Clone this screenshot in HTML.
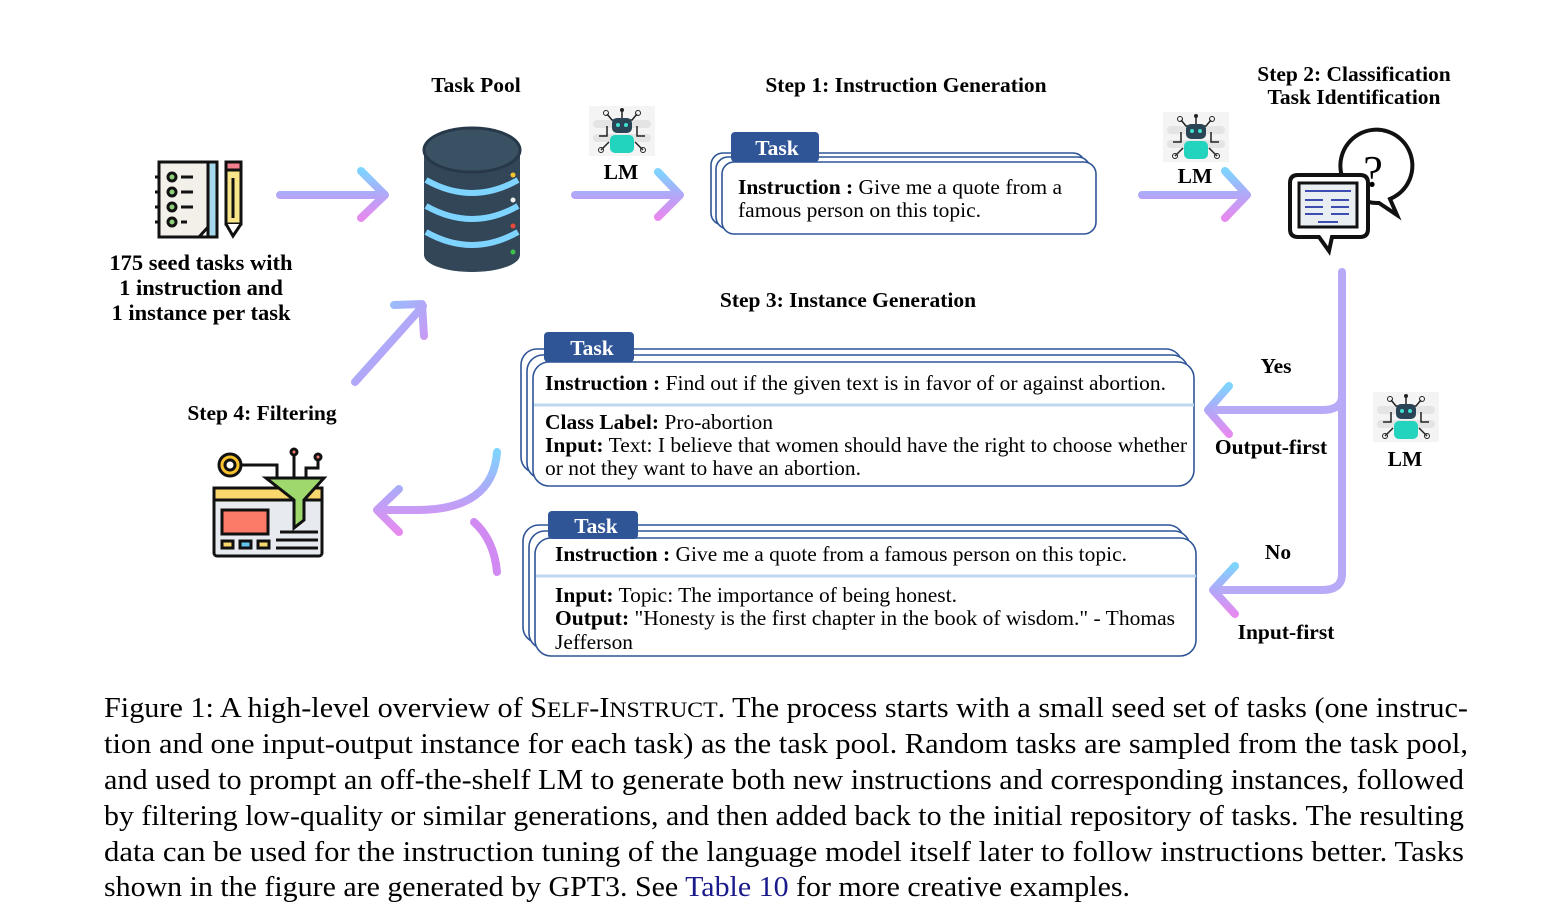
<!DOCTYPE html>
<html><head><meta charset="utf-8"><style>
html,body{margin:0;padding:0;background:#fff;}
svg{display:block}
text{font-family:"Liberation Serif",serif;fill:#000}
.b{font-weight:bold}
</style></head><body>
<svg width="1542" height="921" viewBox="0 0 1542 921" xmlns="http://www.w3.org/2000/svg">
<defs>
<linearGradient id="gh" x1="0" y1="0" x2="0" y2="1"><stop offset="0" stop-color="#7fd3ff"/><stop offset="0.5" stop-color="#b0a8f8"/><stop offset="1" stop-color="#e68af0"/></linearGradient>
<linearGradient id="gv" x1="0" y1="0" x2="1" y2="1"><stop offset="0" stop-color="#7fd3ff"/><stop offset="0.5" stop-color="#b0a8f8"/><stop offset="1" stop-color="#e68af0"/></linearGradient>
<g id="robot">
<rect x="0" y="0" width="66" height="50" fill="#f4f4f4"/>
<rect x="4" y="14" width="58" height="8" rx="4" fill="#e4e4e4"/><rect x="4" y="28" width="58" height="8" rx="4" fill="#e4e4e4"/>
<path d="M33 4v8M18 8l5 6h10M48 8l-5 6H33M10 30h8v-10M56 30h-8v-10M12 44l8-8M54 44l-8-8" stroke="#222" stroke-width="1.5" fill="none"/>
<circle cx="33" cy="4" r="2" fill="#222"/><circle cx="17" cy="7" r="2.5" fill="none" stroke="#222"/><circle cx="49" cy="7" r="2.5" fill="none" stroke="#222"/><circle cx="12" cy="44" r="2.5" fill="none" stroke="#222"/><circle cx="54" cy="44" r="2.5" fill="none" stroke="#222"/>
<rect x="23" y="12" width="20" height="15" rx="5" fill="#2b4455"/><circle cx="29" cy="19" r="2" fill="#3ee0cf"/><circle cx="37" cy="19" r="2" fill="#3ee0cf"/>
<rect x="21" y="29" width="24" height="18" rx="5" fill="#22d3bd"/>
</g>
</defs>

<!-- Top labels -->
<text x="476" y="92" class="b" font-size="21.5" text-anchor="middle">Task Pool</text>
<text x="906" y="92" class="b" font-size="21.5" text-anchor="middle">Step 1: Instruction Generation</text>
<text x="1354" y="81" class="b" font-size="21.5" text-anchor="middle">Step 2: Classification</text>
<text x="1354" y="104" class="b" font-size="21.5" text-anchor="middle">Task Identification</text>
<text x="201" y="270" class="b" font-size="22.5" text-anchor="middle">175 seed tasks with</text>
<text x="201" y="295" class="b" font-size="22.5" text-anchor="middle">1 instruction and</text>
<text x="201" y="320" class="b" font-size="22.5" text-anchor="middle">1 instance per task</text>
<text x="848" y="307" class="b" font-size="21.5" text-anchor="middle">Step 3: Instance Generation</text>
<text x="262" y="420" class="b" font-size="21.5" text-anchor="middle">Step 4: Filtering</text>

<!-- seed icon -->
<g stroke="#111" stroke-width="3" fill="none">
<rect x="159" y="162" width="58" height="75" fill="#f3f0ea"/>
<rect x="208" y="162" width="9" height="75" fill="#a5d8ec"/>
<path d="M199 237l9-10v10z" fill="#fff"/>
<circle cx="172" cy="177" r="4" fill="#8fd07a"/><circle cx="172" cy="192" r="4" fill="#8fd07a"/><circle cx="172" cy="207" r="4" fill="#8fd07a"/><circle cx="172" cy="222" r="4" fill="#8fd07a"/>
<path d="M181 177h12M181 192h12M181 207h12M181 222h6M155 177h4M155 192h4M155 207h4M155 222h4"/>
<rect x="226" y="162" width="15" height="62" fill="#f8e58a"/>
<rect x="226" y="162" width="15" height="8" fill="#f37f8f"/>
<path d="M226 224l7 12 8-12" fill="#fff"/><path d="M233 178v40"/>
</g>

<!-- database -->
<g>
<rect x="424" y="150" width="96" height="105" fill="#324657"/>
<ellipse cx="472" cy="255" rx="48" ry="17" fill="#324657"/>
<ellipse cx="472" cy="150" rx="48" ry="22" fill="#3a5163" stroke="#26384a" stroke-width="3"/>
<path d="M426 180q46 26 92 0" stroke="#7fd3ff" stroke-width="6" fill="none"/>
<path d="M426 206q46 26 92 0" stroke="#7fd3ff" stroke-width="6" fill="none"/>
<path d="M426 232q46 26 92 0" stroke="#7fd3ff" stroke-width="6" fill="none"/>
<circle cx="513" cy="175" r="2.5" fill="#f5c32c"/><circle cx="513" cy="200" r="2.5" fill="#eee"/><circle cx="513" cy="226" r="2.5" fill="#e84a3a"/><circle cx="513" cy="252" r="2.5" fill="#3cc24a"/>
</g>

<!-- robots -->
<use href="#robot" x="589" y="106"/>
<text x="621" y="179" class="b" font-size="21.5" text-anchor="middle">LM</text>
<use href="#robot" x="1163" y="112"/>
<text x="1195" y="183" class="b" font-size="21.5" text-anchor="middle">LM</text>
<use href="#robot" x="1373" y="392"/>
<text x="1405" y="466" class="b" font-size="21.5" text-anchor="middle">LM</text>

<!-- classification icon -->
<g stroke="#111" stroke-width="4" fill="#fff">
<path d="M1346 185a36 36 0 1 1 44 14l7 16-18-12a36 36 0 0 1-33-18z"/>
<text x="1373" y="186" font-size="44" font-family="Liberation Sans,sans-serif" stroke="none" fill="#111" text-anchor="middle">?</text>
<path d="M1298 175h62q8 0 8 8v46q0 8-8 8h-28l-3 14-10-14h-21q-8 0-8-8v-46q0-8 8-8z"/>
<rect x="1299" y="183" width="58" height="44" fill="#e9eef2" stroke-width="3"/>
<path d="M1305 191h46M1305 200h18M1331 200h18M1305 207h18M1331 207h18M1305 214h18M1331 214h18M1318 222h20" stroke-width="2" stroke="#3c4cb0"/>
</g>

<!-- filtering icon -->
<g stroke="#111" stroke-width="3">
<rect x="214" y="488" width="108" height="68" rx="3" fill="#e7eaee"/>
<rect x="214" y="488" width="108" height="12" fill="#f9d76c"/>
<rect x="222" y="510" width="46" height="24" fill="#fb7b68"/>
<rect x="222" y="541" width="11" height="7" fill="#f9d76c"/><rect x="240" y="541" width="11" height="7" fill="#63c5f0"/><rect x="258" y="541" width="11" height="7" fill="#f9d76c"/>
<path d="M276 540h42M276 548h42M280 532h38" fill="none"/>
<circle cx="230" cy="465" r="11" fill="#f7c22c"/><circle cx="230" cy="465" r="5" fill="#fff"/>
<path d="M241 465h36v14M294 478v-24M306 478v-10h12v-12" fill="none"/>
<circle cx="294" cy="452" r="3" fill="#f37f6f"/><circle cx="318" cy="457" r="3" fill="#f37f6f"/>
<path d="M266 478h58l-20 22v20l-10 8v-28z" fill="#9fd86c"/>
</g>

<!-- arrows -->
<g fill="none" stroke-width="8" stroke-linecap="round" stroke-linejoin="round">
<path d="M280 195H384M361 171l24 24-24 23" stroke="url(#gh)"/>
<path d="M575 195H680M658 172l22 23-22 22" stroke="url(#gh)"/>
<path d="M1142 195H1247M1225 171l22 24-22 23" stroke="url(#gh)"/>
<path d="M355 382L423 306M394 305l28-1 2 32" stroke="url(#gv)"/>
<path d="M1342 272V574q0 16-20 16H1214M1342 396q0 14-20 14H1210" stroke="#b8aaf6"/>
<path d="M1229 386l-21 24 21 24" stroke="url(#gh)"/>
<path d="M1235 566l-22 24 22 24" stroke="url(#gh)"/>
<path d="M497 452q-4 58-80 58H378M399 489l-22 21 22 22" stroke="url(#gh)"/>
<path d="M474 522q20 18 23 50" stroke="#d08af2"/>
</g>

<!-- Task box 1 -->
<g fill="#fff" stroke="#2f5597" stroke-width="1.6">
<rect x="711" y="153" width="374" height="72" rx="12"/>
<rect x="716" y="157" width="374" height="72" rx="12"/>
<rect x="722" y="162" width="374" height="72" rx="12"/>
</g>
<rect x="731" y="132" width="88" height="30" rx="4" fill="#2f5597"/>
<text x="777" y="155" class="b" font-size="21.5" text-anchor="middle" style="fill:#fff">Task</text>
<text x="738" y="194" font-size="21.5" textLength="324" lengthAdjust="spacingAndGlyphs"><tspan class="b">Instruction :</tspan> Give me a quote from a</text>
<text x="738" y="217" font-size="21.5" textLength="243" lengthAdjust="spacingAndGlyphs">famous person on this topic.</text>

<!-- Task box 2 -->
<g fill="#fff" stroke="#2f5597" stroke-width="1.6">
<rect x="521" y="349" width="661" height="124" rx="16"/>
<rect x="527" y="355" width="661" height="124" rx="16"/>
<rect x="533" y="362" width="661" height="124" rx="16"/>
</g>
<line x1="534" y1="405" x2="1194" y2="405" stroke="#bdd7ee" stroke-width="3"/>
<rect x="544" y="332" width="90" height="30" rx="4" fill="#2f5597"/>
<text x="592" y="355" class="b" font-size="21.5" text-anchor="middle" style="fill:#fff">Task</text>
<text x="545" y="390" font-size="21.5" textLength="621" lengthAdjust="spacingAndGlyphs"><tspan class="b">Instruction :</tspan> Find out if the given text is in favor of or against abortion.</text>
<text x="545" y="429" font-size="21.5" textLength="228" lengthAdjust="spacingAndGlyphs"><tspan class="b">Class Label:</tspan> Pro-abortion</text>
<text x="545" y="452" font-size="21.5" textLength="642" lengthAdjust="spacingAndGlyphs"><tspan class="b">Input:</tspan> Text: I believe that women should have the right to choose whether</text>
<text x="545" y="475" font-size="21.5" textLength="316" lengthAdjust="spacingAndGlyphs">or not they want to have an abortion.</text>

<!-- Task box 3 -->
<g fill="#fff" stroke="#2f5597" stroke-width="1.6">
<rect x="523" y="525" width="661" height="118" rx="16"/>
<rect x="529" y="531" width="661" height="118" rx="16"/>
<rect x="535" y="538" width="661" height="118" rx="16"/>
</g>
<line x1="536" y1="576" x2="1196" y2="576" stroke="#bdd7ee" stroke-width="3"/>
<rect x="548" y="511" width="90" height="28" rx="4" fill="#2f5597"/>
<text x="596" y="533" class="b" font-size="21.5" text-anchor="middle" style="fill:#fff">Task</text>
<text x="555" y="561" font-size="21.5" textLength="572" lengthAdjust="spacingAndGlyphs"><tspan class="b">Instruction :</tspan> Give me a quote from a famous person on this topic.</text>
<text x="555" y="602" font-size="21.5" textLength="402" lengthAdjust="spacingAndGlyphs"><tspan class="b">Input:</tspan> Topic: The importance of being honest.</text>
<text x="555" y="625" font-size="21.5" textLength="620" lengthAdjust="spacingAndGlyphs"><tspan class="b">Output:</tspan> "Honesty is the first chapter in the book of wisdom." - Thomas</text>
<text x="555" y="649" font-size="21.5" textLength="78" lengthAdjust="spacingAndGlyphs">Jefferson</text>

<!-- Yes/No labels -->
<text x="1276" y="373" class="b" font-size="21.5" text-anchor="middle">Yes</text>
<text x="1271" y="454" class="b" font-size="21.5" text-anchor="middle">Output-first</text>
<text x="1278" y="559" class="b" font-size="21.5" text-anchor="middle">No</text>
<text x="1286" y="639" class="b" font-size="21.5" text-anchor="middle">Input-first</text>

<!-- caption -->
<g font-size="28">
<text x="104" y="717" textLength="1364" lengthAdjust="spacingAndGlyphs">Figure 1: A high-level overview of S<tspan font-size="22">ELF</tspan>-I<tspan font-size="22">NSTRUCT</tspan>. The process starts with a small seed set of tasks (one instruc-</text>
<text x="104" y="753" textLength="1364" lengthAdjust="spacingAndGlyphs">tion and one input-output instance for each task) as the task pool.  Random tasks are sampled from the task pool,</text>
<text x="104" y="789" textLength="1360" lengthAdjust="spacingAndGlyphs">and used to prompt an off-the-shelf LM to generate both new instructions and corresponding instances, followed</text>
<text x="104" y="825" textLength="1360" lengthAdjust="spacingAndGlyphs">by filtering low-quality or similar generations, and then added back to the initial repository of tasks. The resulting</text>
<text x="104" y="861" textLength="1360" lengthAdjust="spacingAndGlyphs">data can be used for the instruction tuning of the language model itself later to follow instructions better.  Tasks</text>
<text x="104" y="896" textLength="1026" lengthAdjust="spacingAndGlyphs">shown in the figure are generated by GPT3.  See <tspan style="fill:#1a1a8c">Table 10</tspan> for more creative examples.</text>
</g>
</svg>
</body></html>
